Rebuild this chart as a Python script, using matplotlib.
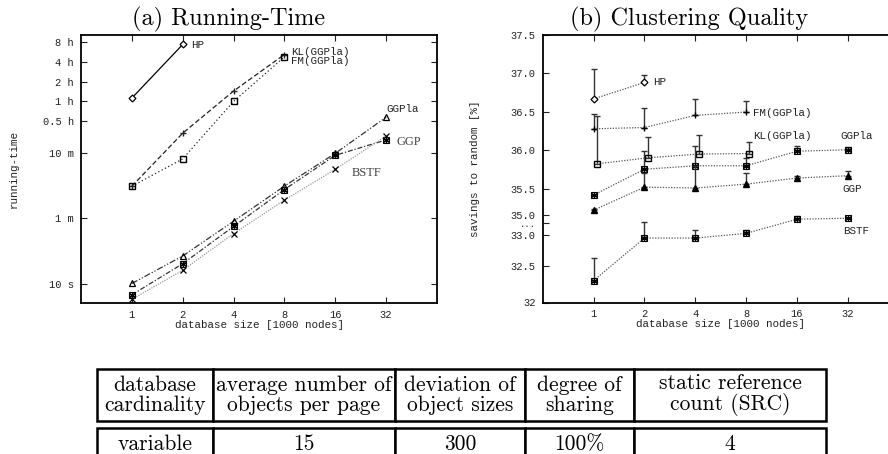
import numpy as np
import matplotlib
matplotlib.use("Agg")
import matplotlib.pyplot as plt

# ============================================================
# === Data
# ============================================================

sizes = [1, 2, 4, 8, 16, 32]
size_labels = ["1", "2", "4", "8", "16", "32"]

# (a) running time in seconds
rt_hp = [4040, 26400]
rt_kl = [184, 1182, 5170, 18580]
rt_fm = [184, 480, 3600, 17100]
rt_ggpla = [6.1, 16, 54, 185, 583, 2068]
rt_ggp = [4.1, 12.2, 45, 164, 544, 932]
rt_bstf = [3.5, 9.7, 35, 113, 333, 1072]

rt_ticks = [6, 60, 600, 1800, 3600, 7200, 14400, 28800]
rt_tick_labels = ["10 s", "1 m", "10 m", "0.5 h", "1 h", "2 h", "4 h", "8 h"]

# (b) savings to random [%], with upper end of the error bar
q_hp = [36.667, 36.881]
q_hp_top = [37.055, 36.98]
q_fm = [36.28, 36.297, 36.454, 36.497]
q_fm_top = [36.475, 36.554, 36.66, 36.637]
q_kl = [35.825, 35.904, 35.953, 35.96]
q_kl_top = [36.45, 36.17, 36.205, 36.105]
q_ggpla = [35.38, 35.755, 35.80, 35.80, 35.99, 36.01]
q_ggpla_top = [35.40, 35.996, 36.06, 35.90, 36.06, 36.04]
q_ggp = [35.095, 35.52, 35.51, 35.56, 35.64, 35.67]
q_ggp_top = [35.11, 35.70, 35.80, 35.70, 35.66, 35.73]
q_bstf = [32.296, 32.945, 32.945, 33.13, 34.59, 34.69]
q_bstf_top = [32.62, 34.35, 33.48, 33.52, 34.90, 34.72]

q_ticks = [32, 32.5, 33.0, 34.17, 35.0, 35.5, 36.0, 36.5, 37.0, 37.5]
q_tick_labels = ["32", "32.5", "33.0", "...", "35.0", "35.5", "36.0", "36.5", "37.0", "37.5"]

# broken y axis of (b): value -> height on the axis
break_vals = [32.0, 32.5, 33.0, 35.0, 35.5, 36.0, 36.5, 37.0, 37.5]
break_pos = [0, 36.7, 67.4, 86.7, 113.0, 151.0, 189.4, 227.7, 265.7]

# parameter table
header_top = ["database", "average number of", "deviation of", "degree of", "static reference"]
header_bottom = ["cardinality", "objects per page", "object sizes", "sharing", "count (SRC)"]
params = ["variable", "15", "300", "100%", "4"]

# ============================================================
# === Style
# ============================================================

MONO = "Liberation Mono"
SERIF = "cmr10"
INK = "#222222"

W, H = 888, 454
fig = plt.figure(figsize=(W / 100, H / 100), dpi=100)


def px_axes(left, top, right, bottom):
    return fig.add_axes([left / W, 1 - bottom / H, (right - left) / W, (bottom - top) / H])


def style_axes(ax):
    ax.set_xscale("log", base=2)
    ax.set_xlim(0.5, 64)
    ax.set_xticks(sizes)
    ax.set_xticklabels(size_labels)
    ax.minorticks_off()
    ax.tick_params(direction="in", top=True, right=True, length=4, width=0.8,
                   labelsize=7.5, colors=INK, pad=5)
    for lab in ax.get_xticklabels() + ax.get_yticklabels():
        lab.set_family(MONO)
    for sp in ax.spines.values():
        sp.set_linewidth(1.3)
    ax.set_xlabel("database size [1000 nodes]", family=MONO, fontsize=7.8,
                  color=INK, labelpad=0)


def boxed_star(ax, xs, ys, ms=5):
    # gnuplot-like boxed asterisk: an open square under a six-armed star
    ax.plot(xs, ys, ls="none", marker="s", ms=ms - 1, mfc="none", mec="black", mew=0.8)
    ax.plot(xs, ys, ls="none", marker=(6, 2, 0), ms=ms, mec="black", mew=0.9)


# ============================================================
# === (a) Running-Time
# ============================================================

ax1 = px_axes(81, 35, 437, 303)
ax1.set_yscale("log")
ax1.set_ylim(3.08, 36800)
ax1.set_yticks(rt_ticks)
ax1.set_yticklabels(rt_tick_labels)
style_axes(ax1)

ax1.plot(sizes[:2], rt_hp, color="black", lw=0.9, marker="D", ms=3.5,
         mfc="white", mec="black", mew=0.9)
ax1.plot(sizes[:4], rt_kl, color="#222222", lw=0.9, dashes=(4, 2),
         marker="+", ms=5, mew=1)
ax1.plot(sizes[:4], rt_fm, color="#222222", lw=0.9, dashes=(1, 2),
         marker="s", ms=5, mfc="none", mec="black", mew=1)
ax1.plot(sizes, rt_ggpla, color="#333333", lw=0.9, dashes=(5, 1.5, 1, 1.5, 1, 1.5),
         marker="^", ms=5, mfc="none", mec="black", mew=0.9)
ax1.plot(sizes, rt_ggp, color="#333333", lw=0.9, dashes=(4, 1.5, 1, 1.5))
boxed_star(ax1, sizes, rt_ggp)
ax1.plot(sizes, rt_bstf, color="#999999", lw=0.9, dashes=(1, 1),
         marker="x", ms=5, mec="black", mew=0.9)

ax1.set_ylabel("running-time", family=MONO, fontsize=7.8, color=INK, labelpad=17)

lab_kw = dict(fontsize=7.8, color=INK, va="center", ha="left")
ax1.annotate("HP", (191, H - 45), xycoords="figure pixels", family=MONO, **lab_kw)
ax1.annotate("KL(GGPla)", (291, H - 51.7), xycoords="figure pixels", family=MONO, **lab_kw)
ax1.annotate("FM(GGPla)", (291, H - 60.7), xycoords="figure pixels", family=MONO, **lab_kw)
ax1.annotate("GGPla", (386, H - 109.3), xycoords="figure pixels", family=MONO, **lab_kw)
ax1.annotate("GGP", (396.7, H - 141.7), xycoords="figure pixels", family="Liberation Serif",
             fontsize=9, color="#444444", va="center", ha="left")
ax1.annotate("BSTF", (351.7, H - 172.7), xycoords="figure pixels", family="Liberation Serif",
             fontsize=9, color="#444444", va="center", ha="left")

fig.text(228.5 / W, 1 - 19 / H, "(a) Running-Time", family=SERIF, fontsize=17.5,
         ha="center", va="center")

# ============================================================
# === (b) Clustering Quality
# ============================================================


def fwd(v):
    return np.interp(v, break_vals, break_pos)


def inv(p):
    return np.interp(p, break_pos, break_vals)


ax2 = px_axes(542.7, 35, 898.7, 302.5)
ax2.set_yscale("function", functions=(fwd, inv))
ax2.set_ylim(32, 37.5)
ax2.set_yticks(q_ticks)
ax2.set_yticklabels(q_tick_labels)
style_axes(ax2)
ax2.spines["right"].set_visible(False)
for lab in ax2.get_yticklabels():
    if lab.get_text() == "...":
        lab.set_fontsize(6.5)

kl_x = [s * 1.046 for s in sizes[:4]]
series_b = [
    (sizes[:2], q_hp, q_hp_top, dict(marker="D", ms=3.5, mfc="white", mec="black", mew=0.9)),
    (sizes[:4], q_fm, q_fm_top, dict(marker="+", ms=5, mec="black", mew=1)),
    (kl_x, q_kl, q_kl_top, dict(marker="s", ms=5, mfc="none", mec="black", mew=1)),
    (sizes, q_ggpla, q_ggpla_top, None),
    (sizes, q_ggp, q_ggp_top, dict(marker="^", ms=4.5, mfc="black", mec="black")),
    (sizes, q_bstf, q_bstf_top, None),
]
for xs, ys, tops, mk in series_b:
    ys = np.array(ys)
    up = np.array(tops) - ys
    ax2.errorbar(xs, ys, yerr=[np.zeros_like(ys), up], fmt="none", ecolor="#333333",
                 elinewidth=1, capsize=2.5, capthick=1)
    if mk is None:
        ax2.plot(xs, ys, color="#555555", lw=0.9, dashes=(1, 1.2))
        boxed_star(ax2, xs, ys)
    else:
        ax2.plot(xs, ys, color="#555555", lw=0.9, dashes=(1, 1.2), **mk)

ax2.set_ylabel("savings to random [%]", family=MONO, fontsize=7.8, color=INK, labelpad=22)

ax2.annotate("HP", (652.7, H - 81.7), xycoords="figure pixels", family=MONO, **lab_kw)
ax2.annotate("FM(GGPla)", (752.7, H - 112.7), xycoords="figure pixels", family=MONO, **lab_kw)
ax2.annotate("KL(GGPla)", (752.7, H - 135.7), xycoords="figure pixels", family=MONO, **lab_kw)
ax2.annotate("GGPla", (840.7, H - 135.7), xycoords="figure pixels", family=MONO, **lab_kw)
ax2.annotate("GGP", (842.7, H - 189.3), xycoords="figure pixels", family=MONO, **lab_kw)
ax2.annotate("BSTF", (842.7, H - 231), xycoords="figure pixels", family=MONO, **lab_kw)

fig.text(689 / W, 1 - 19 / H, "(b) Clustering Quality", family=SERIF, fontsize=17.5,
         ha="center", va="center")

# ============================================================
# === Parameter table
# ============================================================

col_edges = [97, 213, 395, 525, 634, 826]
col_w = [(b - a) / (col_edges[-1] - col_edges[0]) for a, b in zip(col_edges[:-1], col_edges[1:])]
tw = (col_edges[-1] - col_edges[0]) / W

tax = fig.add_axes([0, 0, 1, 1])
tax.axis("off")

head_cells = [[f"{a}\n{b}" for a, b in zip(header_top, header_bottom)]]
t1 = tax.table(cellText=head_cells, colWidths=col_w, cellLoc="center",
               bbox=[col_edges[0] / W, 1 - 421 / H, tw, 52 / H])
t2 = tax.table(cellText=[params], colWidths=col_w, cellLoc="center",
               bbox=[col_edges[0] / W, 1 - 460 / H, tw, 32 / H])
for t in (t1, t2):
    t.auto_set_font_size(False)
    for cell in t.get_celld().values():
        cell.set_linewidth(1.8)
        cell.set_edgecolor("black")
        cell.get_text().set_family(SERIF)
        cell.get_text().set_fontsize(15.5)
        cell.get_text().set_linespacing(1.0)

fig.savefig("out.png", dpi=100)
